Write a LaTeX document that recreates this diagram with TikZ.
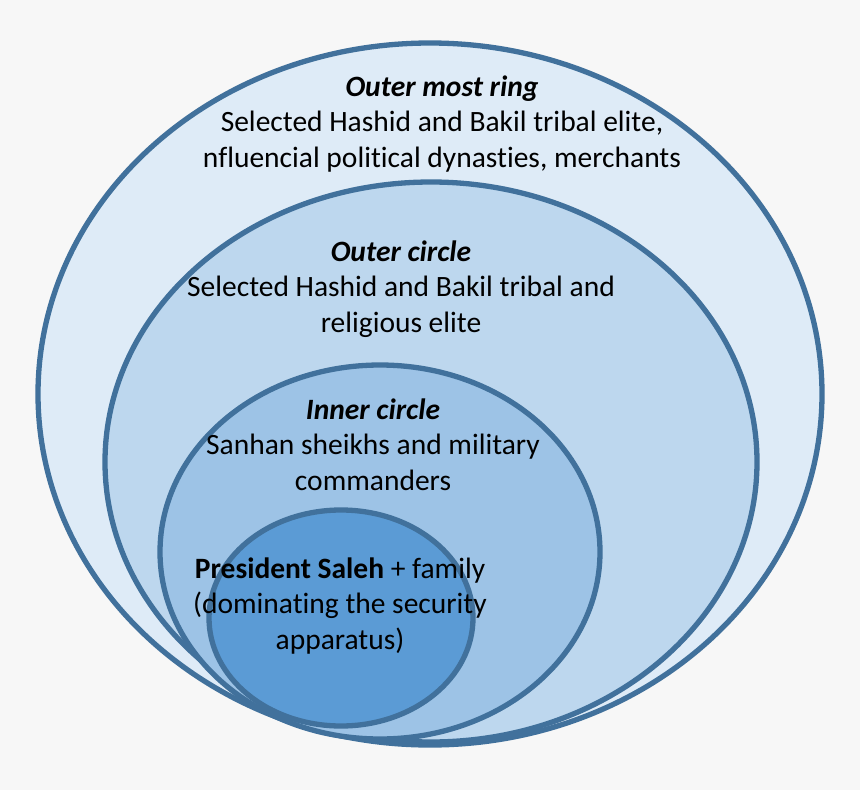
\documentclass[tikz,border=0pt]{standalone}
\usepackage{fontspec}
\setmainfont{Carlito}[Ligatures=CommonOff]
\definecolor{ringline}{HTML}{41719C}
\definecolor{ringA}{HTML}{DEEBF7}
\definecolor{ringB}{HTML}{BDD7EE}
\definecolor{ringC}{HTML}{9DC3E6}
\definecolor{ringD}{HTML}{5B9BD5}
\definecolor{paper}{HTML}{F7F7F7}
\tikzset{
  ring/.style={draw=ringline, line width=5.3pt},
  ringtext/.style={align=center, anchor=base, inner sep=0pt,
    font=\fontsize{29.5}{35.5}\selectfont}
}
\begin{document}
\begin{tikzpicture}[x=1pt,y=-1pt]
% The background
\fill[paper] (0,0) rectangle (860,790);
\useasboundingbox (0,0) rectangle (860,790);

% The rings, from the outside in
\draw[ring,fill=ringA] (430,394) ellipse [x radius=392, y radius=351];
\draw[ring,fill=ringB] (431,462) ellipse [x radius=326, y radius=280];
\draw[ring,fill=ringC] (380,552) ellipse [x radius=220, y radius=187];
\draw[ring,fill=ringD] (341,618) ellipse [x radius=132, y radius=108];

% Labels for the rings (placed at the base of their last line)
\node[ringtext] (outermost) at (442,167)
  {\textbf{\textit{Outer most ring}}\\
   Selected Hashid and Bakil tribal elite,\\
   nfluencial political dynasties, merchants};
\node[ringtext] (outer) at (401,332)
  {\textbf{\textit{Outer circle}}\\
   Selected Hashid and Bakil tribal and\\
   religious elite};
\node[ringtext] (inner) at (373,490)
  {\textbf{\textit{Inner circle}}\\
   Sanhan sheikhs and military\\
   commanders};
\node[ringtext] (president) at (340,649)
  {\textbf{President Saleh} + family\\
   (dominating the security\\
   apparatus)};

\end{tikzpicture}
\end{document}
